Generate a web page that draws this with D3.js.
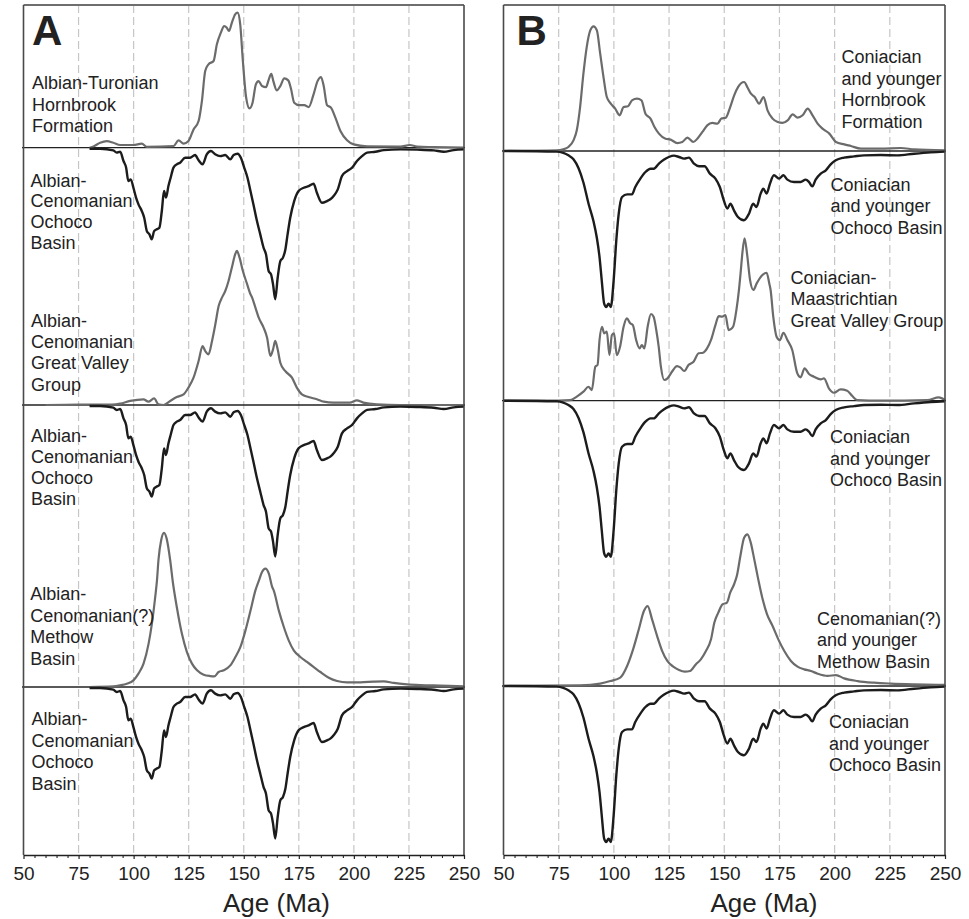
<!DOCTYPE html>
<html>
<head>
<meta charset="utf-8">
<script src="https://cdn.jsdelivr.net/npm/d3@7"></script>
<style>
  body { margin: 0; background: #fff; }
  svg text { font-family: "Liberation Sans", Arial, Helvetica, sans-serif; fill: #222; }
</style>
</head>
<body>
<svg id="chart" width="969" height="919"></svg>
<script>
// detrital zircon probability curves, [age Ma, relative probability]
const hornbrookA = [[80,0],[82,0.01],[84.8,0.033],[87.8,0.044],[90.8,0.033],[93.9,0.018],[99.9,0.018],[103.7,0.027],[106,0.005],[118.1,0.01],[120.4,0.049],[122.7,0.027],[124.9,0.044],[127.2,0.122],[129.5,0.178],[131,0.311],[132.5,0.511],[134,0.556],[136.3,0.578],[137.8,0.689],[139.6,0.767],[141.1,0.811],[142.3,0.8],[143.3,0.778],[144.6,0.833],[146.1,0.889],[147.2,0.9],[148.4,0.822],[149.6,0.578],[151.1,0.333],[152.6,0.262],[154,0.3],[155.5,0.422],[156.7,0.444],[158.3,0.411],[160.1,0.404],[161.4,0.456],[162.5,0.493],[163.5,0.44],[165,0.382],[166.6,0.411],[168.4,0.462],[170.2,0.449],[171.4,0.396],[172.9,0.3],[175.1,0.284],[177.5,0.284],[179.5,0.271],[181.7,0.356],[183.5,0.444],[185.1,0.471],[186.3,0.411],[187.8,0.284],[189.6,0.267],[191.6,0.2],[193.9,0.111],[196.9,0.049],[199.9,0.022],[206,0.009],[221.1,0.007],[225.4,0.018],[228.7,0.007],[236.3,0.004],[250,0]];

const ochocoA = [[80,0.007],[84.8,0.007],[90.8,0.018],[92.3,0.033],[93.9,0.027],[95.4,0.089],[96.6,0.133],[97.6,0.222],[98.7,0.211],[99.9,0.267],[101.1,0.333],[102.2,0.378],[103.7,0.422],[104.8,0.467],[106,0.556],[107.2,0.578],[108.2,0.611],[109.3,0.556],[110.5,0.544],[111.7,0.533],[112.8,0.422],[113.8,0.289],[114.7,0.333],[115.8,0.256],[116.8,0.2],[118.1,0.133],[119.6,0.111],[121.1,0.1],[123.4,0.067],[125.6,0.067],[127.9,0.049],[129.5,0.084],[131.3,0.111],[133.2,0.044],[135.1,0.022],[137,0.044],[139.3,0.056],[141.6,0.049],[143.9,0.078],[145.4,0.049],[147.2,0.04],[148.7,0.067],[150.2,0.133],[151.7,0.2],[152.9,0.278],[154.4,0.378],[156,0.489],[157.5,0.578],[159,0.667],[160.1,0.711],[161.3,0.822],[162.4,0.844],[163.3,0.911],[164.3,1.01],[165.4,0.867],[166.6,0.756],[167.8,0.733],[168.9,0.678],[169.9,0.578],[171.1,0.467],[172.9,0.356],[174.9,0.289],[177.2,0.267],[179.5,0.256],[181.7,0.24],[183.2,0.3],[185.5,0.367],[187.8,0.356],[189.3,0.344],[190.8,0.322],[192.7,0.278],[194.6,0.189],[196.9,0.156],[199.2,0.133],[201.4,0.089],[203.7,0.056],[206,0.033],[209.8,0.027],[213.6,0.016],[221.1,0.011],[228.7,0.013],[236.3,0.018],[240.8,0.027],[245.3,0.016],[250,0.011]];

const greatValleyA = [[60,0],[75,0.002],[90,0.003],[93.9,0.009],[98.4,0.027],[104.5,0.038],[106.7,0.022],[109.3,0.044],[111.3,0.004],[113.6,0],[116.6,0.027],[119.6,0.053],[122.7,0.071],[124.9,0.116],[127.2,0.182],[129.5,0.293],[131.3,0.393],[132.5,0.36],[134,0.338],[135.6,0.427],[137.1,0.538],[138.6,0.66],[140.1,0.716],[141.6,0.76],[143.1,0.827],[144.6,0.916],[146.1,1.004],[146.9,1.027],[148.1,0.982],[149.6,0.893],[151.5,0.807],[153,0.74],[153.8,0.716],[155.3,0.649],[156.8,0.582],[159,0.516],[160.6,0.449],[162.1,0.327],[163.3,0.371],[164.3,0.427],[165.4,0.371],[166.6,0.282],[168.8,0.227],[171.9,0.182],[174.1,0.116],[176.4,0.071],[179.4,0.053],[183.2,0.038],[186.3,0.022],[190.8,0.016],[198.2,0.016],[201.3,0.031],[204.3,0.016],[210.4,0.004],[220.9,0],[250,0]];

const methowA = [[80,0],[90.8,0.004],[93.9,0.011],[96.9,0.022],[99.9,0.044],[102.2,0.089],[104.5,0.156],[106.8,0.289],[108.3,0.422],[109.8,0.6],[110.6,0.711],[111.3,0.85],[112.5,0.978],[113.8,1.027],[115,0.989],[116.6,0.845],[117.8,0.7],[119.6,0.533],[121.9,0.356],[124.2,0.233],[126.5,0.156],[128.8,0.111],[131.8,0.082],[134.8,0.073],[136.6,0.071],[138.6,0.1],[140.9,0.111],[143.9,0.144],[146.2,0.2],[148.5,0.267],[150.8,0.378],[153.1,0.511],[155.3,0.644],[156.9,0.711],[158.3,0.767],[159.8,0.789],[161.4,0.756],[162.9,0.667],[163.6,0.644],[165.9,0.511],[168.2,0.4],[170.4,0.311],[172.7,0.244],[175.7,0.2],[178.7,0.167],[181.8,0.133],[184.8,0.1],[188.6,0.062],[192.4,0.04],[196.9,0.031],[203,0.031],[209,0.036],[213.6,0.038],[218.1,0.027],[224.2,0.018],[230.2,0.013],[239.3,0.009],[250,0.004]];

const hornbrookB = [[50,0],[74.1,0.004],[77.1,0.011],[79.4,0.027],[81.7,0.071],[83.2,0.138],[84.7,0.293],[86.2,0.516],[87.7,0.693],[89.3,0.804],[90.8,0.831],[92.3,0.804],[93.8,0.649],[95.3,0.493],[96.8,0.36],[98.6,0.316],[100.6,0.282],[102.6,0.238],[104.4,0.293],[106.4,0.298],[108.2,0.338],[110.5,0.349],[112.5,0.338],[114.3,0.249],[116.6,0.216],[118.4,0.16],[120.4,0.116],[123.4,0.082],[125.7,0.076],[128.7,0.053],[131,0.06],[133.3,0.089],[136,0.06],[137.8,0.082],[140.1,0.127],[142.3,0.171],[144.6,0.187],[146.9,0.182],[148.7,0.216],[150.7,0.222],[152.7,0.293],[154.5,0.371],[156.3,0.427],[159,0.46],[160.6,0.422],[162.1,0.382],[163.8,0.36],[165.8,0.316],[167.8,0.36],[169.6,0.271],[171.9,0.216],[174.2,0.193],[176.4,0.187],[178.7,0.204],[181,0.244],[183.2,0.222],[185.5,0.238],[187.8,0.282],[190,0.238],[192.3,0.182],[194.5,0.149],[197.6,0.116],[200.6,0.06],[204.4,0.044],[207.4,0.033],[211.9,0.016],[220.9,0.016],[230,0.02],[236,0.011],[250,0.004]];

const ochocoB = [[50,0],[74.1,0.004],[77.1,0.013],[79.4,0.029],[81.7,0.055],[84,0.115],[86.2,0.21],[88.5,0.35],[90.8,0.47],[92.3,0.58],[93.5,0.707],[94.5,0.862],[95.6,1.018],[96.5,1.04],[97.6,1.018],[98.6,1.04],[99.9,0.862],[101.1,0.596],[102.2,0.418],[103.7,0.307],[106,0.289],[108.2,0.289],[109.7,0.24],[112,0.184],[114.3,0.14],[116.6,0.118],[118.1,0.118],[120.4,0.084],[122.6,0.058],[124.9,0.04],[127.2,0.031],[129.5,0.04],[131.8,0.051],[134,0.044],[136.3,0.084],[138.6,0.102],[141.1,0.102],[143.5,0.151],[146,0.184],[148,0.24],[149.8,0.329],[151.4,0.384],[152.8,0.351],[154.4,0.396],[156.2,0.44],[158.9,0.462],[161.2,0.418],[163.1,0.351],[164.6,0.373],[166.5,0.284],[167.7,0.251],[169.2,0.284],[170.7,0.218],[172.5,0.162],[174.8,0.184],[176.8,0.162],[178.6,0.191],[181.6,0.207],[184.6,0.207],[186.9,0.191],[188.4,0.207],[189.9,0.236],[191.4,0.191],[193.7,0.151],[196,0.129],[198.2,0.089],[200.5,0.062],[204.3,0.044],[208.8,0.036],[213.3,0.029],[220.9,0.027],[228.4,0.029],[236,0.018],[243.5,0.009],[250,0.004]];

const greatValleyB = [[50,0],[69.6,0],[80.2,0.004],[83.2,0.027],[86.2,0.06],[88.5,0.093],[90,0.071],[91.6,0.227],[92.6,0.238],[93.5,0.404],[94.6,0.493],[95.6,0.449],[96.8,0.46],[98,0.304],[99.1,0.438],[100.1,0.449],[101.3,0.304],[102.8,0.36],[104.4,0.493],[105.9,0.549],[107.4,0.516],[108.6,0.504],[110.1,0.404],[111.6,0.349],[112.7,0.371],[113.8,0.349],[115.3,0.493],[116.8,0.578],[118,0.56],[119.2,0.471],[120.3,0.36],[121.3,0.227],[122.8,0.138],[124.3,0.149],[126.3,0.193],[128.6,0.231],[130.1,0.222],[131.9,0.198],[133.8,0.238],[136.1,0.26],[138.4,0.316],[140.4,0.32],[142.2,0.349],[144.1,0.409],[146,0.504],[147.5,0.564],[149,0.56],[150.5,0.571],[152,0.471],[154,0.493],[155.5,0.604],[156.6,0.73],[157.4,0.85],[158.2,0.982],[159.2,1.083],[160.3,0.982],[161.7,0.804],[163.2,0.738],[164.7,0.782],[167.3,0.838],[169.2,0.853],[170.4,0.782],[171,0.738],[172.2,0.56],[173.7,0.427],[175.2,0.404],[176.8,0.453],[178.6,0.404],[180.8,0.338],[183.1,0.182],[184.6,0.156],[186.4,0.216],[188.4,0.178],[190.6,0.16],[193.7,0.142],[195.2,0.149],[197.4,0.082],[199.7,0.053],[202.7,0.076],[205.7,0.067],[208,0.031],[210.3,0.004],[220.9,0],[242,0.004],[247.2,0.022],[250,0.004]];

const methowB = [[50,0],[84.7,0.004],[93.8,0.016],[98.4,0.033],[102.9,0.056],[106,0.133],[108.7,0.244],[111.3,0.378],[113.6,0.5],[115.3,0.533],[117.3,0.444],[119.6,0.333],[121.9,0.233],[124.2,0.167],[126.9,0.129],[129.5,0.107],[132.1,0.096],[134.5,0.1],[137.1,0.144],[139.4,0.178],[141.7,0.233],[144,0.311],[145.5,0.422],[147.3,0.489],[149.2,0.544],[151.2,0.556],[152.7,0.622],[154.5,0.68],[155.8,0.74],[157.3,0.867],[159,0.989],[160.5,1.011],[162,0.956],[163.6,0.844],[165.4,0.711],[167.4,0.578],[169.4,0.478],[171.9,0.4],[174.5,0.311],[177.2,0.233],[180.2,0.167],[183.2,0.129],[186.2,0.111],[189.3,0.1],[192.3,0.082],[196.8,0.067],[200.6,0.073],[204.3,0.051],[210.4,0.033],[217.9,0.022],[225.5,0.016],[236,0.011],[250,0.007]];

const ageTicks = [50, 75, 100, 125, 150, 175, 200, 225, 250];
const gridAges = [75, 100, 125, 150, 175, 200, 225];

const grayLabelsA = [
  ["Albian-Turonian", "Hornbrook", "Formation"],
  ["Albian-", "Cenomanian", "Great Valley", "Group"],
  ["Albian-", "Cenomanian(?)", "Methow", "Basin"],
];
const blackLabelsA = [
  ["Albian-", "Cenomanian", "Ochoco", "Basin"],
  ["Albian-", "Cenomanian", "Ochoco", "Basin"],
  ["Albian-", "Cenomanian", "Ochoco", "Basin"],
];
const grayLabelsB = [
  ["Coniacian", "and younger", "Hornbrook", "Formation"],
  ["Coniacian-", "Maastrichtian", "Great Valley Group"],
  ["Cenomanian(?)", "and younger", "Methow Basin"],
];
const blackLabelsB = [
  ["Coniacian", "and younger", "Ochoco Basin"],
  ["Coniacian", "and younger", "Ochoco Basin"],
  ["Coniacian", "and younger", "Ochoco Basin"],
];

class ProbabilityPanel {
  top = 5;
  bottom = 855;
  unit = 150; // px per unit of relative probability

  constructor(svg, left, right, letter) {
    this.svg = svg;
    this.left = left;
    this.right = right;
    this.letter = letter;
  }

  initialize() {
    this.g = this.svg.append("g");
    this.x = d3.scaleLinear().domain([50, 250]).range([this.left, this.right]);

    this.g.append("g")
      .selectAll("line")
      .data(gridAges)
      .join("line")
      .attr("x1", (d) => this.x(d))
      .attr("x2", (d) => this.x(d))
      .attr("y1", this.top)
      .attr("y2", this.bottom)
      .attr("stroke", "#c6c6c6")
      .attr("stroke-width", 1.2)
      .attr("stroke-dasharray", "8,4");

    this.rowLayer = this.g.append("g");
    this.labelLayer = this.g.append("g");

    // frame
    this.g.append("line")
      .attr("x1", this.left).attr("x2", this.right)
      .attr("y1", this.top).attr("y2", this.top)
      .attr("stroke", "#6e6e6e").attr("stroke-width", 2.2);
    this.g.selectAll(".side")
      .data([this.left, this.right])
      .join("line")
      .attr("class", "side")
      .attr("x1", (d) => d).attr("x2", (d) => d)
      .attr("y1", this.top).attr("y2", this.bottom)
      .attr("stroke", "#4a4a4a").attr("stroke-width", 1.6);

    const axis = this.g.append("g")
      .attr("transform", `translate(0, ${this.bottom})`)
      .call(d3.axisBottom(this.x).tickValues(ageTicks).tickSize(4).tickPadding(8).tickSizeOuter(0));
    axis.select(".domain").attr("stroke", "#222").attr("stroke-width", 1.6);
    axis.selectAll(".tick line").attr("stroke", "#222").attr("stroke-width", 1.2);
    axis.selectAll("text").style("font-size", "19px").attr("fill", "#111");

    this.g.append("g")
      .attr("transform", `translate(0, ${this.bottom})`)
      .call(d3.axisBottom(this.x).tickValues(d3.range(55, 250, 5).filter((d) => d % 25)).tickSize(3).tickFormat(""))
      .call((a) => a.select(".domain").remove())
      .selectAll(".tick line").attr("stroke", "#222").attr("stroke-width", 1.1);

    this.g.append("text")
      .attr("x", this.letter === "A" ? 32 : 516.5)
      .attr("y", 45)
      .style("font-size", "42px")
      .style("font-weight", "bold")
      .attr("fill", "#1a1a1a")
      .text(this.letter);
  }

  addRow(baseline, grayData, blackData) {
    const yUp = d3.scaleLinear().domain([0, 1]).range([baseline, baseline - this.unit]);
    const yDown = d3.scaleLinear().domain([0, 1]).range([baseline, baseline + this.unit]);
    const row = this.rowLayer.append("g");

    row.append("line")
      .attr("x1", this.left - 1.5).attr("x2", this.right + 1)
      .attr("y1", baseline).attr("y2", baseline)
      .attr("stroke", "#222").attr("stroke-width", 1.3);

    const lineUp = d3.line().x((d) => this.x(d[0])).y((d) => yUp(d[1])).curve(d3.curveMonotoneX);
    const lineDown = d3.line().x((d) => this.x(d[0])).y((d) => yDown(d[1])).curve(d3.curveMonotoneX);

    row.append("path")
      .datum(grayData)
      .attr("d", lineUp)
      .attr("fill", "none")
      .attr("stroke", "#6b6b6b")
      .attr("stroke-width", 2.2)
      .attr("stroke-linejoin", "round");

    row.append("path")
      .datum(blackData)
      .attr("d", lineDown)
      .attr("fill", "none")
      .attr("stroke", "#1c1c1c")
      .attr("stroke-width", 2.4)
      .attr("stroke-linejoin", "round");
  }

  addLabel(lines, x, y, spacing = 21.5) {
    const t = this.labelLayer.append("text")
      .attr("x", x)
      .attr("y", y)
      .style("font-size", "18px");
    t.selectAll("tspan")
      .data(lines)
      .join("tspan")
      .attr("x", x)
      .attr("y", (d, i) => y + i * spacing)
      .text((d) => d);
  }

  addTitle(text, cx) {
    this.g.append("text")
      .attr("x", cx)
      .attr("y", 911.5)
      .attr("text-anchor", "middle")
      .style("font-size", "26px")
      .attr("fill", "#1a1a1a")
      .text(text);
  }
}

const svg = d3.select("#chart");

const panelA = new ProbabilityPanel(svg, 23.5, 464, "A");
panelA.initialize();
[[147.7, hornbrookA], [405, greatValleyA], [687, methowA]].forEach(([b, gray]) =>
  panelA.addRow(b, gray, ochocoA)
);
panelA.addLabel(grayLabelsA[0], 32, 89);
panelA.addLabel(blackLabelsA[0], 30.5, 186.5, 20.8);
panelA.addLabel(grayLabelsA[1], 31, 327, 21.2);
panelA.addLabel(blackLabelsA[1], 31, 441.5, 21.3);
panelA.addLabel(grayLabelsA[2], 30.3, 600, 21.5);
panelA.addLabel(blackLabelsA[2], 31.5, 725, 21.5);
panelA.addTitle("Age (Ma)", 276.5);

const panelB = new ProbabilityPanel(svg, 503.5, 945, "B");
panelB.initialize();
[[151, hornbrookB], [400.7, greatValleyB], [686, methowB]].forEach(([b, gray]) =>
  panelB.addRow(b, gray, ochocoB)
);
panelB.addLabel(grayLabelsB[0], 841.5, 63);
panelB.addLabel(blackLabelsB[0], 830.5, 190.5);
panelB.addLabel(grayLabelsB[1], 790.5, 283.5);
panelB.addLabel(blackLabelsB[1], 830, 443);
panelB.addLabel(grayLabelsB[2], 817, 624.5);
panelB.addLabel(blackLabelsB[2], 829, 728);
panelB.addTitle("Age (Ma)", 764);
</script>
</body>
</html>
